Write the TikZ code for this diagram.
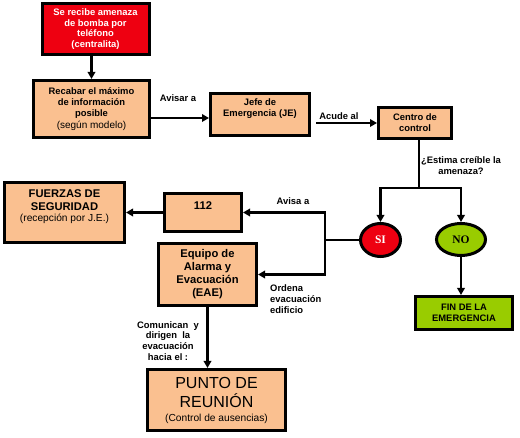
\documentclass[tikz,border=0pt]{standalone}
\usepackage{fontspec}
\setmainfont{Liberation Sans}
\newfontfamily\sifont{Liberation Serif}
\usetikzlibrary{arrows.meta,shapes.geometric}
\definecolor{peach}{HTML}{FAC090}
\definecolor{alarm}{HTML}{EE0011}
\definecolor{lime}{HTML}{99CC00}
\newcommand{\topbox}[4]{\parbox[c][#2][t]{#1}{\centering\rule{0pt}{#3}#4\par}}
\begin{document}
\begin{tikzpicture}[x=1pt,y=-1pt,
  box/.style={draw=black, line width=3pt, fill=peach, inner sep=0pt},
  cbox/.style={box, align=center},
  small/.style={font=\fontsize{9.4}{10.8}\selectfont\bfseries},
  big/.style={font=\fontsize{11.2}{13}\selectfont\bfseries},
  lbl/.style={small, inner sep=0pt, align=center},
  link/.style={line width=2.2pt, draw=black},
  arr/.style={link, -{Triangle[length=7pt,width=7.5pt]}},
  oval/.style={ellipse, draw=black, line width=3pt, inner sep=0pt,
    font=\fontsize{11.5}{13}\selectfont\sifont\bfseries}
]
\fill[white] (0,0) rectangle (520,438);
\useasboundingbox (0,0) rectangle (520,438);

% boxes
\node[cbox, fill=alarm, text=white, small, minimum width=107pt, minimum height=51pt]
  (amenaza) at (95.5,29) {Se recibe amenaza\\de bomba por\\teléfono\\(centralita)};
\node[box, small] (rec) at (91.5,109)
  {\topbox{116pt}{57pt}{14pt}{Recabar el máximo\\de información\\posible\\[2pt]{\fontsize{10}{11}\selectfont\mdseries (según modelo)}}};
\node[box, small] (jefe) at (260,114.5)
  {\topbox{99pt}{42pt}{12.1pt}{Jefe de\\[0.5pt]Emergencia (JE)}};
\node[cbox, small, minimum width=73pt, minimum height=31pt]
  (centro) at (415,123) {Centro de\\control};
\node[oval, fill=alarm, text=white, minimum width=40pt, minimum height=33pt]
  (si) at (380.5,240) {SI};
\node[oval, fill=lime, minimum width=49pt, minimum height=32pt]
  (no) at (461,239.5) {NO};
\node[cbox, small, fill=lime, minimum width=97pt, minimum height=33pt]
  (fin) at (464,313) {FIN DE LA\\EMERGENCIA};
\node[box, big] (n112) at (203,212.5)
  {\topbox{77pt}{38pt}{15.6pt}{112}};
\node[box, big] (fz) at (64.5,212.5)
  {\topbox{120pt}{60pt}{14.6pt}{FUERZAS DE\\SEGURIDAD\\[-1.5pt]{\fontsize{10.2}{11}\selectfont\mdseries (recepción por J.E.)}}};
\node[cbox, big, minimum width=98pt, minimum height=62pt]
  (eae) at (207.5,274.5) {Equipo de\\Alarma y\\Evacuación\\(EAE)};
\node[cbox, font=\fontsize{16}{19}\selectfont, minimum width=138pt, minimum height=61pt]
  (punto) at (216.5,400) {PUNTO DE\\REUNIÓN\\[-5pt]{\fontsize{10.2}{12}\selectfont (Control de ausencias)}};

% connectors
\draw[arr] (amenaza.south -| rec.north) -- (rec.north);
\draw[arr] (rec.east |- 0,118) -- (jefe.west |- 0,118);
\draw[arr] ([xshift=5pt]jefe.east |- 0,123) -- (centro.west |- 0,123);
\coordinate (split) at (419,188);
\draw[link] (centro.south -| split) -- (split);
\draw[arr] (split) -| (si.north);
\draw[arr] (split) -| (no.north);
\draw[arr] (no.south) -- (fin.north -| no.south);
\coordinate (fork) at (325,240);
\draw[link] (si.west) -- (fork);
\draw[arr] (fork) |- (n112.east);
\draw[arr] (fork) |- (eae.east);
\draw[arr] (n112.west) -- (fz.east);
\draw[arr] (eae.south) -- (punto.north -| eae.south);

% labels
\node[lbl] (lavisar) at (178,98) {Avisar a};
\node[lbl] (lacude) at (339,116) {Acude al};
\node[lbl] (lestima) at (461,166) {¿Estima creíble la\\amenaza?};
\node[lbl] (lavisa) at (293,201) {Avisa a};
\node[lbl, align=left, anchor=west] (lordena) at (270,299) {Ordena\\evacuación\\edificio};
\node[lbl] (lcomun) at (168,341) {Comunican \ y\\dirigen \ la\\evacuación\\hacia el :};
\end{tikzpicture}
\end{document}
